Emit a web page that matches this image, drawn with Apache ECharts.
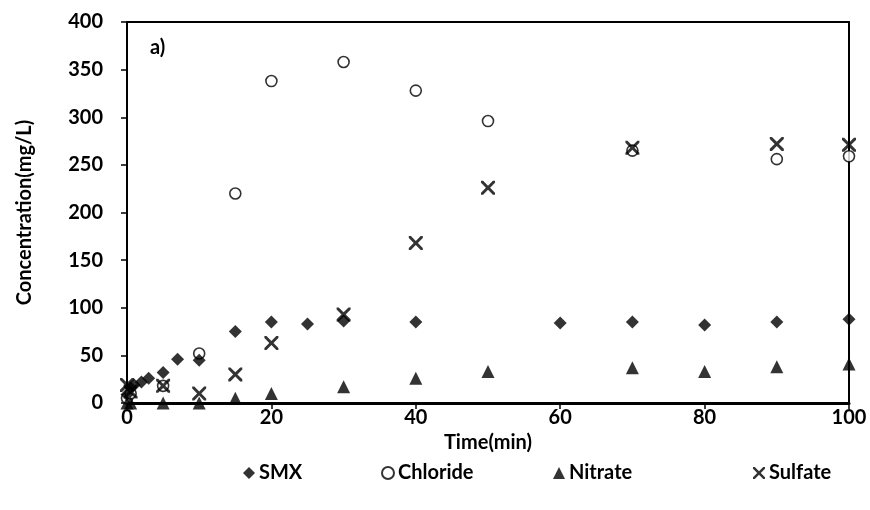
<!DOCTYPE html>
<html>
<head>
<meta charset="utf-8">
<script src="https://cdn.jsdelivr.net/npm/echarts@6/dist/echarts.min.js"></script>
<style>html,body{margin:0;padding:0;background:#fff}#c{width:870px;height:510px}</style>
</head>
<body>
<div id="c"></div>
<script>
var smxTime = [0, 0.5, 1, 2, 3, 5, 7, 10, 15, 20, 25, 30, 40, 60, 70, 80, 90, 100];
var smxVal  = [9, 16, 19, 22, 26, 32, 46, 45, 75, 85, 83, 86, 85, 84, 85, 82, 85, 88];

var chlTime = [0, 0.5, 5, 10, 15, 20, 30, 40, 50, 70, 90, 100];
var chlVal  = [5, 10, 18, 52, 220, 338, 358, 328, 296, 265, 256, 259];

var nitTime = [0, 0.5, 5, 10, 15, 20, 30, 40, 50, 70, 80, 90, 100];
var nitVal  = [0, 0, 0, 0, 5, 10, 17, 26, 33, 37, 33, 38, 41];

var sulTime = [0, 0.5, 5, 10, 15, 20, 30, 40, 50, 70, 90, 100];
var sulVal  = [19, 12, 18, 10, 30, 63, 93, 168, 226, 268, 272, 271];

var seriesNames = ['SMX', 'Chloride', 'Nitrate', 'Sulfate'];
var xTitle = 'Time(min)';
var yTitle = 'Concentration(mg/L)';
var panelLabel = 'a)';

function pairs(t, v) { return t.map(function (x, i) { return [x, v[i]]; }); }

var XPATH = 'path://M0,0 L3,0 L10,7 L17,0 L20,0 L20,3 L13,10 L20,17 L20,20 L17,20 L10,13 L3,20 L0,20 L0,17 L7,10 L0,3 Z';
var FONT = 'Lato';
var FS = 20;

var legendLeft = [238, 376, 548, 748];
var legends = seriesNames.map(function (n, i) {
  return {
    left: legendLeft[i], top: 458, itemWidth: 12, itemHeight: 12, itemGap: 4,
    textStyle: { fontFamily: FONT, fontWeight: 'bold', fontSize: FS, color: '#000', padding: [0, 0, 0, -1] },
    data: [n]
  };
});

var chart = echarts.init(document.getElementById('c'));
chart.setOption({
  animation: false,
  backgroundColor: '#fff',
  textStyle: { fontFamily: FONT },
  grid: { left: 127, right: 21, top: 22, bottom: 107, show: true, borderColor: '#000', borderWidth: 2 },
  xAxis: {
    type: 'value', min: 0, max: 100, interval: 20,
    name: xTitle, nameLocation: 'middle', nameGap: 22,
    nameTextStyle: { fontFamily: FONT, fontWeight: 'bold', fontSize: FS, color: '#000' },
    axisLine: { show: true, lineStyle: { color: '#000', width: 3 } },
    axisTick: { show: true, inside: false, length: 6, lineStyle: { color: '#000', width: 1.5 } },
    axisLabel: { fontFamily: FONT, fontWeight: 'bold', fontSize: FS, color: '#000', margin: 5 },
    splitLine: { show: false }
  },
  yAxis: {
    type: 'value', min: 0, max: 400, interval: 50,
    name: yTitle, nameLocation: 'middle', nameGap: 92,
    nameTextStyle: { fontFamily: FONT, fontWeight: 'bold', fontSize: FS, color: '#000' },
    axisLine: { show: true, lineStyle: { color: '#000', width: 2 } },
    axisTick: { show: true, inside: false, length: 6, lineStyle: { color: '#000', width: 1.5 } },
    axisLabel: { fontFamily: FONT, fontWeight: 'bold', fontSize: FS, color: '#000', margin: 24 },
    splitLine: { show: false }
  },
  legend: legends,
  graphic: [{
    type: 'text', left: 150, top: 38,
    style: { text: panelLabel, font: 'bold 20px ' + FONT, fill: '#000' }
  }],
  series: [
    { name: seriesNames[0], type: 'scatter', symbol: 'diamond', symbolSize: 13,
      itemStyle: { color: '#000' }, data: pairs(smxTime, smxVal), z: 3 },
    { name: seriesNames[1], type: 'scatter', symbol: 'circle', symbolSize: 11,
      itemStyle: { color: '#fff', borderColor: '#000', borderWidth: 1.6 }, data: pairs(chlTime, chlVal), z: 2 },
    { name: seriesNames[2], type: 'scatter', symbol: 'triangle', symbolSize: 13,
      itemStyle: { color: '#000' }, data: pairs(nitTime, nitVal), z: 3 },
    { name: seriesNames[3], type: 'scatter', symbol: XPATH, symbolSize: 14,
      itemStyle: { color: '#000' }, data: pairs(sulTime, sulVal), z: 4 }
  ]
});
</script>
</body>
</html>
